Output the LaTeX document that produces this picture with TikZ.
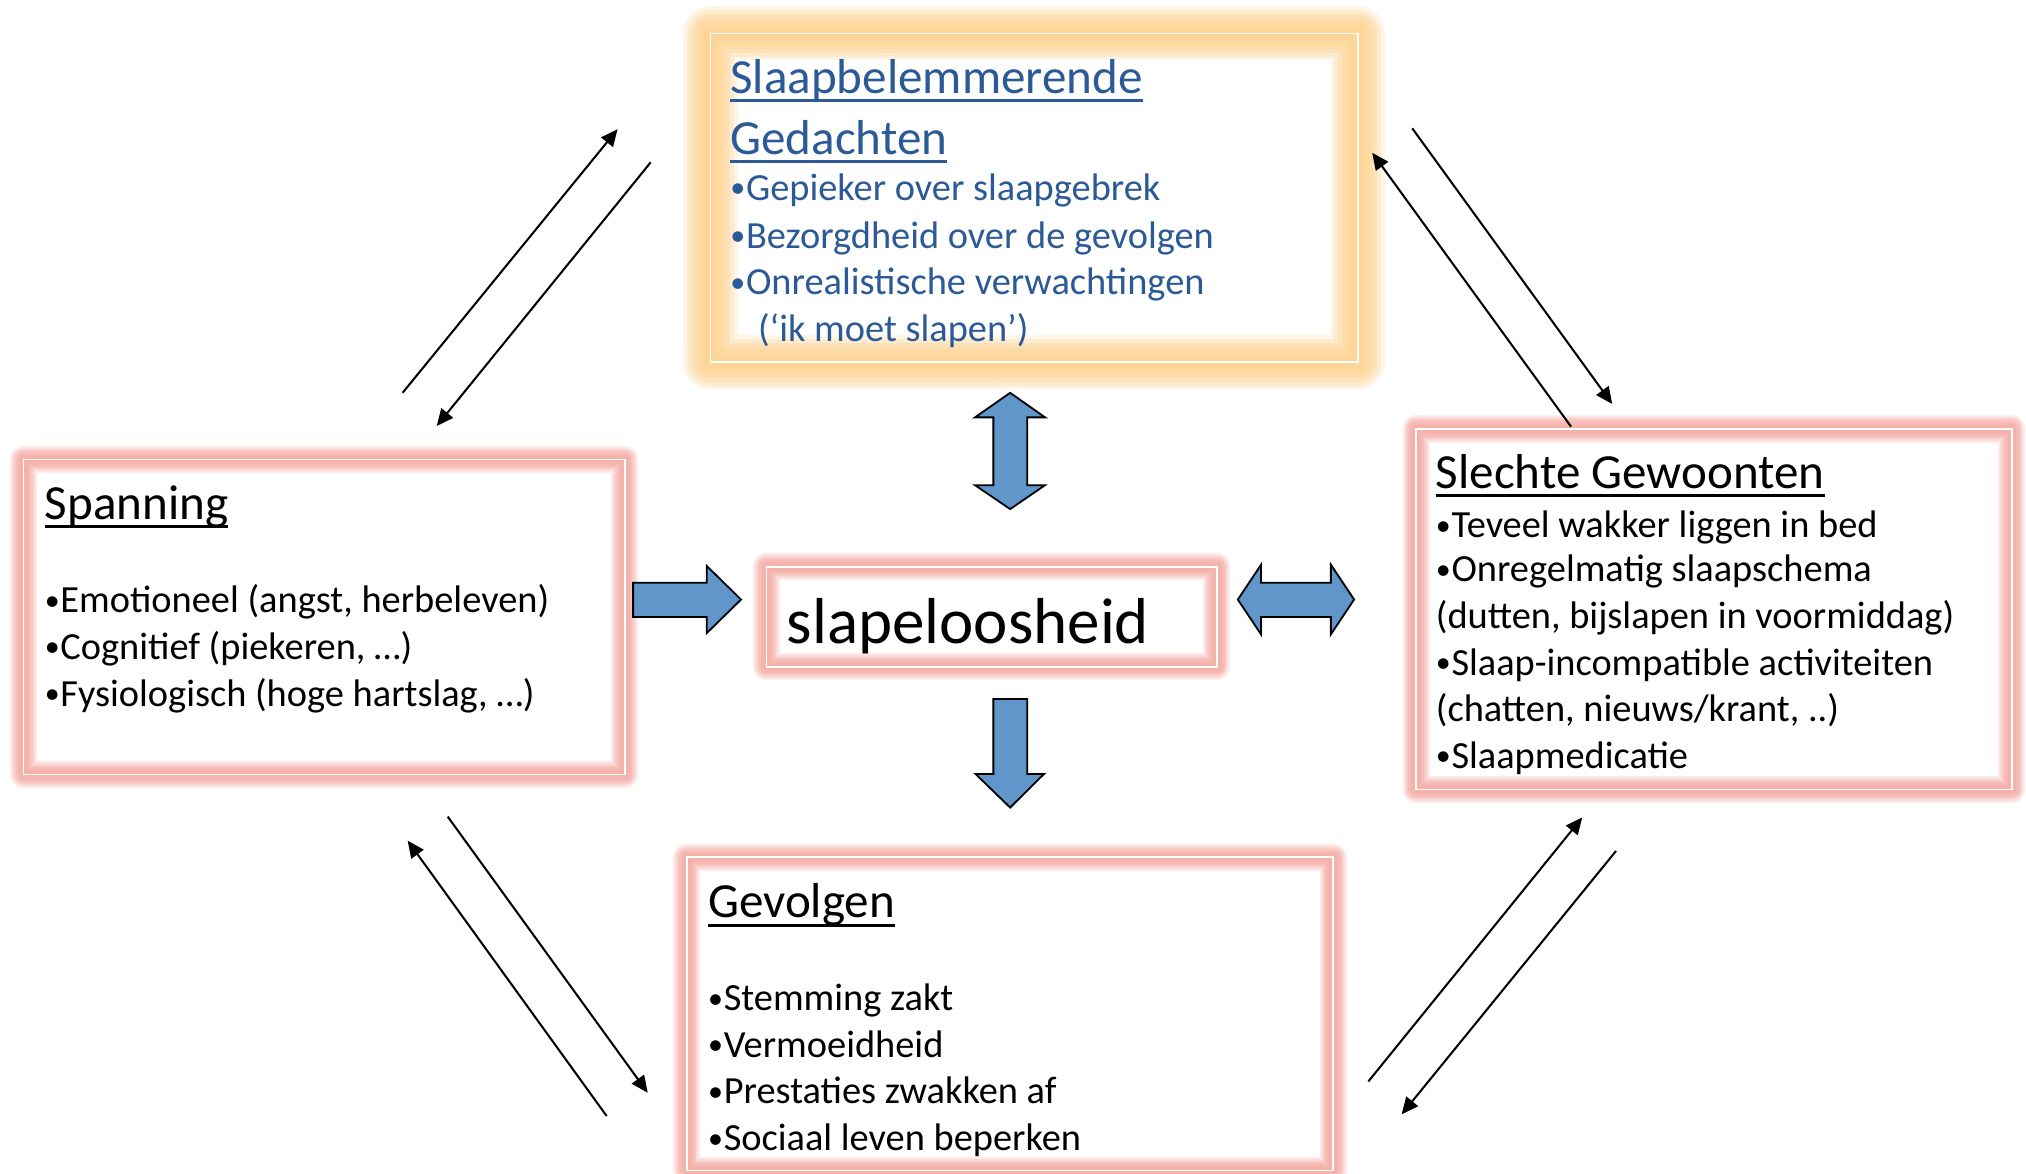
\documentclass[tikz,border=0pt]{standalone}
\usepackage{fontspec}
\setmainfont{Carlito}
\usetikzlibrary{arrows.meta}
\definecolor{glowpink}{RGB}{245,167,158}
\definecolor{gloworange}{RGB}{253,207,136}
\definecolor{arrowblue}{RGB}{97,150,202}
\definecolor{textblue}{RGB}{43,90,150}
\newlength\pxu \setlength\pxu{0.01cm}
\newcommand\bul{\raisebox{0.55pt}{\fontsize{6.6pt}{7pt}\selectfont •}\kern0.15pt}
\tikzset{
  txt/.style={anchor=base west, inner sep=0pt, outer sep=0pt},
  body/.style={txt, font=\fontsize{8.45pt}{10pt}\selectfont},
  ttl/.style={txt, font=\fontsize{10.8pt}{13pt}\selectfont},
  blockarrow/.style={fill=arrowblue, draw=black, line width=0.4pt, line join=miter},
  thinarrow/.style={line width=0.45pt, -{Triangle[length=3.7pt,width=3.3pt]}},
  uline/.style={line width=2.2\pxu},
}
\newcommand\pinkglow[2]{%
  \foreach \w/\o in {21/0.22,18/0.25,15/0.3,12/0.3,9/0.3,6/0.3}
    \draw[glowpink, line width=\w\pxu, opacity=\o, line join=round] #1 rectangle #2;
  \draw[white, line width=1.3\pxu] #1 rectangle #2;
}
\newcommand\orangeglow[2]{%
  \foreach \w/\o in {42/0.2,36/0.25,30/0.3,24/0.3,18/0.3,10/0.3}
    \draw[gloworange, line width=\w\pxu, opacity=\o, line join=round] #1 rectangle #2;
  \draw[white, line width=1.3\pxu] #1 rectangle #2;
}
\begin{document}
\begin{tikzpicture}[x=0.01cm, y=-0.01cm]
\useasboundingbox (0,0) rectangle (1568,908);
\fill[white] (0,0) rectangle (1568,908);

% box frames
\coordinate (ged-nw) at (549.8,25.8);  \coordinate (ged-se) at (1050.8,280.4);
\coordinate (spa-nw) at (18.3,355.5);  \coordinate (spa-se) at (483.5,599.3);
\coordinate (sle-nw) at (1096,332);    \coordinate (sle-se) at (1557,611);
\coordinate (gev-nw) at (531.5,663.5); \coordinate (gev-se) at (1031.8,906);
\coordinate (slp-nw) at (593.2,438.6); \coordinate (slp-se) at (941.7,516);
\orangeglow{(ged-nw)}{(ged-se)}
\pinkglow{(spa-nw)}{(spa-se)}
\pinkglow{(sle-nw)}{(sle-se)}
\pinkglow{(gev-nw)}{(gev-se)}
\pinkglow{(slp-nw)}{(slp-se)}

% Gedachten
\node[ttl, text=textblue] (ged-t1) at (565.3,72.2) {Slaapbelemmerende};
\node[ttl, text=textblue] (ged-t2) at (565.3,119.2) {Gedachten};
\draw[uline, textblue] ([yshift=-5.4\pxu]ged-t1.base west) -- ([yshift=-5.4\pxu]ged-t1.base east);
\draw[uline, textblue] ([yshift=-5.8\pxu]ged-t2.base west) -- ([yshift=-5.8\pxu]ged-t2.base east);
\node[body, text=textblue] (ged-1) at (565.3,154.8) {\bul Gepieker over slaapgebrek};
\node[body, text=textblue] (ged-2) at (565.3,192.2) {\bul Bezorgdheid over de gevolgen};
\node[body, text=textblue] (ged-3) at (565.3,228.3) {\bul Onrealistische verwachtingen};
\node[body, text=textblue] (ged-4) at (586.7,264.5) {(‘ik moet slapen’)};

% Spanning
\node[ttl] (spa-t) at (34.7,401.8) {Spanning};
\draw[uline] ([yshift=-5.8\pxu]spa-t.base west) -- ([yshift=-5.8\pxu]spa-t.base east);
\node[body] (spa-1) at (34.7,474.2) {\bul Emotioneel (angst, herbeleven)};
\node[body] (spa-2) at (34.7,510.3) {\bul Cognitief (piekeren, …)};
\node[body] (spa-3) at (34.7,546.4) {\bul Fysiologisch (hoge hartslag, …)};

% Slechte Gewoonten
\node[ttl] (sle-t) at (1111.3,377.9) {Slechte Gewoonten};
\draw[uline] ([yshift=-5.4\pxu]sle-t.base west) -- ([yshift=-5.4\pxu]sle-t.base east);
\node[body] (sle-1) at (1111.3,416.1) {\bul Teveel wakker liggen in bed};
\node[body] (sle-2) at (1111.3,450.2) {\bul Onregelmatig slaapschema};
\node[body] (sle-3) at (1111.3,486.3) {(dutten, bijslapen in voormiddag)};
\node[body] (sle-4) at (1111.3,522.4) {\bul Slaap-incompatible activiteiten};
\node[body] (sle-5) at (1111.3,558.5) {(chatten, nieuws/krant, ..)};
\node[body] (sle-6) at (1111.3,594.6) {\bul Slaapmedicatie};

% Gevolgen
\node[ttl] (gev-t) at (548.1,710) {Gevolgen};
\draw[uline] ([yshift=-6\pxu]gev-t.base west) -- ([yshift=-6\pxu]gev-t.base east);
\node[body] (gev-1) at (548.1,782.2) {\bul Stemming zakt};
\node[body] (gev-2) at (548.1,818.3) {\bul Vermoeidheid};
\node[body] (gev-3) at (548.1,854.4) {\bul Prestaties zwakken af};
\node[body] (gev-4) at (548.1,890.6) {\bul Sociaal leven beperken};

% slapeloosheid
\node[txt, font=\fontsize{14.3pt}{17pt}\selectfont] (slp) at (609,497.9) {slapeloosheid};

% block arrows
\draw[blockarrow] (781.8,304) -- (808.8,323) -- (795,323) -- (795,375.5) -- (808.8,375.5)
  -- (781.8,394) -- (754.6,375.5) -- (768.8,375.5) -- (768.8,323) -- (754.6,323) -- cycle;
\draw[blockarrow] (490,451) -- (547,451) -- (547,438) -- (573.5,464) -- (547,490)
  -- (547,477.5) -- (490,477.5) -- cycle;
\draw[blockarrow] (958,464) -- (976,437) -- (976,451) -- (1030,451) -- (1030,437)
  -- (1048,464) -- (1030,491) -- (1030,477.5) -- (976,477.5) -- (976,491) -- cycle;
\draw[blockarrow] (768.8,541) -- (795,541) -- (795,599) -- (808,599) -- (781.8,625)
  -- (755,599) -- (768.8,599) -- cycle;

% thin arrows
\coordinate (tl-a) at (311.6,304);   \coordinate (tl-b) at (478,100);
\coordinate (tl-c) at (503.6,125.6); \coordinate (tl-d) at (338,329.7);
\coordinate (tr-a) at (1093,99.3);   \coordinate (tr-b) at (1247.8,312.7);
\coordinate (tr-c) at (1215.9,330.2);\coordinate (tr-d) at (1062,118.2);
\coordinate (bl-a) at (346.5,632);   \coordinate (bl-b) at (501.3,845.7);
\coordinate (bl-c) at (469.5,863.7); \coordinate (bl-d) at (315.5,650.6);
\coordinate (br-a) at (1059,837);    \coordinate (br-b) at (1224.6,632.6);
\coordinate (br-c) at (1250.7,658.6);\coordinate (br-d) at (1084.8,862.4);
\draw[thinarrow] (tl-a) -- (tl-b);
\draw[thinarrow] (tl-c) -- (tl-d);
\draw[thinarrow] (tr-a) -- (tr-b);
\draw[thinarrow] (tr-c) -- (tr-d);
\draw[thinarrow] (bl-a) -- (bl-b);
\draw[thinarrow] (bl-c) -- (bl-d);
\draw[thinarrow] (br-a) -- (br-b);
\draw[thinarrow] (br-c) -- (br-d);
\end{tikzpicture}
\end{document}
